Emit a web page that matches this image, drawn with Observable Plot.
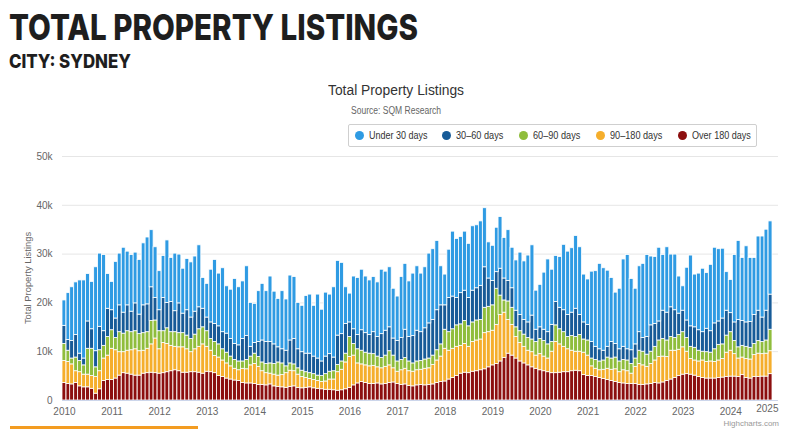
<!DOCTYPE html>
<html>
<head>
<meta charset="utf-8">
<script src="https://cdn.jsdelivr.net/npm/d3@7"></script>
<script src="https://cdn.jsdelivr.net/npm/@observablehq/plot@0.6"></script>
<style>
  html, body { margin: 0; padding: 0; background: #fff; }
  body { width: 800px; height: 429px; overflow: hidden; position: relative; font-family: "Liberation Sans", Arial, sans-serif; }
  .abs { position: absolute; white-space: nowrap; }
  .fit { transform-origin: 0 0; }
  #t1 { left: 9px; top: 9px; font: 800 36px/36px Inter, sans-serif; color: #1e1e1e; }
  #t2 { left: 9px; top: 52px; font: 800 19px/19px Inter, sans-serif; color: #1e1e1e; }
  #ct { top: 82px; font-size: 14px; line-height: 16px; color: #333; }
  #cs { top: 105px; font-size: 10px; line-height: 12px; color: #666; }
  #legend { left: 348px; top: 124px; width: 409px; height: 23px; border: 1px solid #cfcfcf; border-radius: 2px; box-sizing: border-box; }
  .dot { position: absolute; top: 6px; width: 9px; height: 9px; border-radius: 50%; }
  .lt { position: absolute; top: 4px; font-size: 11px; line-height: 13px; color: #333; transform-origin: 0 0; }
  #ytitle { left: 27px; top: 278px; transform: translate(-50%, -50%) rotate(-90deg); font-size: 9.4px; color: #666; }
  #credit { right: 21px; top: 419px; font-size: 8px; line-height: 9px; color: #999; }
  #chart { left: 0; top: 150px; }
  #bar { left: 10px; top: 426px; width: 188px; height: 3px; background: #f39c21; }
</style>
</head>
<body>
<div class="abs fit" id="t1">TOTAL PROPERTY LISTINGS</div>
<div class="abs fit" id="t2">CITY: SYDNEY</div>
<div class="abs fit" id="ct">Total Property Listings</div>
<div class="abs fit" id="cs">Source: SQM Research</div>
<div class="abs" id="legend"></div>
<div class="abs" id="ytitle">Total Property Listings</div>
<div class="abs" id="chart"></div>
<div class="abs" id="credit">Highcharts.com</div>
<div class="abs" id="bar"></div>
<script>
// ---- Data (thousands of listings), monthly Jan 2010 .. Nov 2024 ----
const startYear = 2010;
const seriesNames = ["Under 30 days", "30–60 days", "60–90 days", "90–180 days", "Over 180 days"];
const seriesColors = ["#2f9be3", "#175b98", "#8fbd3c", "#f5ae2c", "#8c0f0f"];
const yTicks = [0, 10, 20, 30, 40, 50];
const yearTicks = [2010, 2011, 2012, 2013, 2014, 2015, 2016, 2017, 2018, 2019, 2020, 2021, 2022, 2023, 2024, 2025];

const over180 = [
3.6,3.4,3.3,3.6,2.9,2.7,2.7,2.4,1.4,2.3,
4.0,4.2,4.2,4.5,5.1,5.6,5.5,5.3,5.1,5.1,
5.5,5.6,5.7,5.6,5.5,5.6,5.8,6.0,6.2,6.0,
5.7,5.7,5.8,5.8,5.7,5.5,5.9,5.8,5.6,5.0,
4.8,4.5,4.3,4.1,4.0,3.6,3.5,3.5,3.4,3.2,
3.2,3.1,3.3,2.9,2.8,2.7,2.6,2.8,2.9,2.6,
2.5,2.6,2.7,2.5,2.4,2.3,2.2,2.2,2.1,2.0,
2.1,2.3,2.6,3.1,3.5,3.8,3.6,3.4,3.4,3.5,
3.3,3.4,3.6,3.7,3.4,3.2,3.3,3.0,2.9,3.1,
3.2,3.1,3.2,3.3,3.6,3.8,3.9,4.3,4.6,5.0,
5.5,5.7,5.6,5.9,6.0,6.2,6.4,6.8,7.2,7.5,
8.0,8.7,9.6,9.2,8.6,8.0,7.6,7.2,6.8,6.5,
6.2,6.0,5.8,5.6,5.6,5.7,5.8,5.8,6.0,6.1,
6.0,5.2,5.0,5.0,4.8,4.6,4.4,4.2,4.0,3.8,
3.6,3.5,3.4,3.4,3.4,3.2,3.2,3.3,3.4,3.6,
3.5,3.7,4.0,4.3,4.6,5.0,5.3,5.4,5.3,5.1,
4.8,4.6,4.5,4.5,4.5,4.6,4.7,4.8,4.9,4.9,
4.8,5.2,4.6,4.5,4.8,4.8,4.9,4.9,5.4];

const d90to180 = [
4.5,4.5,4.1,2.4,2.9,2.6,2.6,2.6,3.4,3.7,
4.6,5.0,6.4,5.8,4.8,4.3,4.7,5.0,5.4,5.0,
4.7,5.0,5.8,7.1,5.0,6.2,5.8,5.2,4.8,4.9,
5.2,4.8,4.1,4.7,5.3,6.0,5.1,4.4,3.5,3.8,
3.4,3.1,2.7,2.4,2.2,2.9,2.9,3.7,4.1,3.7,
2.8,2.5,2.2,2.4,2.3,2.5,3.0,3.3,3.1,2.7,
2.3,2.0,1.7,1.7,1.6,1.5,1.7,2.1,2.2,3.8,
4.2,5.5,6.3,6.1,4.1,3.6,3.6,3.6,3.7,3.3,
3.3,3.5,3.6,2.9,2.5,3.0,3.2,3.0,3.0,3.1,
3.1,3.4,3.4,4.0,4.6,5.2,6.7,5.9,6.0,6.0,
5.7,5.9,5.4,6.1,6.3,6.3,7.4,7.2,7.1,8.0,
9.5,9.3,6.9,6.3,4.4,3.8,3.4,3.0,3.1,2.7,
3.3,3.0,2.8,4.4,6.4,5.8,5.2,4.7,4.2,3.9,
4.0,4.6,4.2,2.0,1.7,1.6,1.9,2.3,2.3,2.6,
2.2,2.7,2.6,2.1,3.5,4.3,4.0,3.6,4.1,4.6,
5.4,5.3,4.9,5.9,5.6,5.4,5.6,4.6,3.2,3.1,
3.2,3.6,3.4,3.5,3.4,3.6,3.8,5.0,5.3,4.6,
3.8,3.6,3.9,3.9,4.5,4.8,4.6,4.7,4.7];

const d60to90 = [
3.5,2.3,1.2,2.8,2.3,1.9,5.3,5.6,2.0,4.3,
2.6,3.8,3.8,2.5,4.1,3.8,4.0,3.7,3.7,3.5,
3.6,3.4,4.8,3.7,3.7,2.4,3.2,2.8,3.0,2.9,
2.9,2.8,2.7,3.0,3.6,3.5,3.2,2.4,2.9,2.7,
2.3,2.2,2.0,1.8,1.8,1.5,1.9,1.8,2.1,2.0,
1.8,1.9,2.1,2.2,2.7,2.4,1.4,1.5,1.4,1.3,
1.3,1.2,1.2,1.2,1.1,1.2,1.5,1.6,1.7,1.5,
1.7,1.8,4.1,2.4,2.9,2.8,2.6,2.6,2.4,2.2,
2.1,2.3,2.9,2.6,2.1,2.1,2.2,2.0,1.7,1.8,
1.8,1.9,2.0,1.9,2.1,2.5,3.9,3.8,4.0,4.4,
4.4,4.7,4.2,4.0,4.1,4.0,5.2,5.2,5.2,7.4,
4.0,2.5,3.8,3.5,2.0,2.4,2.5,2.6,2.6,2.8,
3.1,3.2,2.9,2.0,3.4,3.1,3.0,2.5,3.0,3.0,
3.4,2.7,3.1,1.6,1.8,1.8,1.9,2.3,2.3,2.4,
2.2,2.1,2.2,2.0,1.7,2.7,2.8,2.5,2.5,2.8,
3.4,3.6,3.4,2.8,2.6,3.0,3.1,2.8,2.5,2.6,
2.2,1.8,2.0,1.8,2.6,3.2,3.0,3.5,3.8,2.7,
2.3,2.4,2.5,2.4,2.3,2.6,2.5,2.7,4.4];

const d30to60 = [
3.7,2.2,3.6,4.6,1.5,1.4,5.6,4.0,3.3,4.8,
3.0,5.8,4.1,4.0,5.5,4.3,5.3,4.2,5.7,4.0,
5.7,5.7,6.9,4.6,4.3,6.8,5.2,6.2,4.3,6.1,
4.0,5.2,4.4,4.7,4.5,3.8,2.8,3.4,3.7,3.7,
3.5,3.9,3.6,3.3,3.3,4.6,4.9,2.0,2.2,3.1,
4.5,4.5,4.4,4.0,3.1,2.9,3.2,4.7,5.2,3.9,
3.8,3.8,4.0,3.6,3.5,3.0,3.6,3.6,2.8,6.0,
5.6,6.1,3.0,3.0,2.9,4.2,4.0,3.8,4.5,4.0,
4.9,5.1,4.9,3.5,4.2,4.5,5.8,5.0,5.6,6.3,
5.9,6.4,7.2,7.3,8.2,8.0,5.0,7.0,6.7,5.6,
6.4,6.2,5.8,6.5,6.6,7.0,8.3,5.8,5.0,3.4,
5.5,4.5,4.2,4.0,3.4,3.3,3.0,3.2,4.9,2.5,
2.4,2.3,2.5,3.5,4.8,4.4,4.5,4.5,4.8,5.8,
4.1,3.5,3.2,3.4,2.7,2.5,2.0,2.2,3.4,2.8,
2.5,2.7,2.3,2.8,2.9,3.8,2.8,3.6,5.4,4.7,
3.9,5.8,5.7,6.1,5.7,4.4,4.4,3.6,4.2,4.2,
4.2,4.0,4.8,4.4,5.3,4.8,5.3,5.1,3.9,3.8,
5.6,5.1,5.0,5.3,5.9,6.2,5.0,6.1,7.2];

const under30 = [
5.2,9.6,11.0,10.8,15.0,16.0,9.7,9.7,17.2,15.0,
15.6,7.1,5.8,11.6,10.6,13.3,11.0,11.6,10.4,11.2,
12.7,13.7,11.7,10.4,8.0,8.6,12.8,9.0,11.8,10.0,
9.2,10.5,11.3,11.3,12.7,6.3,6.9,10.8,13.1,10.8,
13.1,9.7,10.1,13.3,11.9,11.8,14.3,9.0,8.0,10.4,
11.6,10.4,13.4,10.8,9.9,11.9,10.5,13.3,12.7,9.5,
9.5,11.8,12.1,10.4,13.1,10.6,13.1,12.2,14.4,15.3,
14.6,7.5,5.9,10.8,11.7,12.4,11.6,11.2,11.3,11.2,
13.2,12.1,12.3,10.2,9.1,12.5,13.5,11.4,12.8,13.2,
12.0,12.5,14.3,14.5,14.2,8.0,6.3,9.9,13.3,12.1,
11.5,12.1,11.1,13.2,12.9,13.2,12.1,7.4,7.2,9.1,
10.6,8.3,10.4,8.3,10.3,12.8,12.0,13.7,14.4,8.0,
8.7,11.7,14.9,11.3,9.4,10.4,13.4,13.0,13.2,14.9,
13.9,9.8,9.3,14.4,15.5,17.5,16.9,15.6,13.1,10.5,
12.4,17.9,19.3,14.6,11.4,13.5,15.2,16.8,14.1,13.7,
15.1,11.4,13.4,10.8,11.4,7.6,5.0,10.8,14.5,10.8,
11.6,13.0,11.4,13.6,15.5,14.8,14.3,7.9,6.8,13.8,
16.2,12.9,15.6,13.1,11.7,15.2,16.6,16.6,15.0];

// ---- Build table ----
const seriesValues = [under30, d30to60, d60to90, d90to180, over180];
const N = over180.length;
seriesValues.forEach((a, k) => { if (a.length !== N) throw new Error("length mismatch " + seriesNames[k] + " " + a.length + " vs " + N); });
const months = d3.range(N).map(i => new Date(Date.UTC(startYear, i, 1)));
const rows = [];
for (let s = seriesNames.length - 1; s >= 0; s--) {
  for (let i = 0; i < N; i++) {
    rows.push({
      series: seriesNames[s],
      x1: d3.utcDay.offset(months[i], -15),
      x2: d3.utcDay.offset(months[i], 15),
      value: seriesValues[s][i]
    });
  }
}
const yearDates = yearTicks.map(y => new Date(Date.UTC(y, 0, 1)));
const lastYear = yearDates[yearDates.length - 1];

const chart = Plot.plot({
  width: 800,
  height: 279,
  marginTop: 6,
  marginBottom: 29,
  marginLeft: 62,
  marginRight: 22,
  style: { fontFamily: "'Liberation Sans', Arial, sans-serif", fontSize: "10px", color: "#666", background: "transparent", overflow: "visible" },
  x: {
    type: "utc",
    domain: [new Date(Date.UTC(startYear - 1, 11, 17)), lastYear],
    ticks: yearDates.slice(0, -1),
    tickFormat: d => String(d.getUTCFullYear()),
    tickSize: 0,
    tickPadding: 7,
    label: null
  },
  y: {
    domain: [0, 50],
    ticks: yTicks,
    tickFormat: d => d === 0 ? "0" : d + "k",
    tickSize: 0,
    tickPadding: 10,
    label: null
  },
  color: { domain: seriesNames, range: seriesColors },
  marks: [
    Plot.ruleY(yTicks, { stroke: "#e6e6e6", strokeWidth: 1 }),
    Plot.rectY(rows, { x1: "x1", x2: "x2", y: "value", fill: "series", stroke: "#fff", strokeWidth: 0.8 }),
    Plot.ruleY([0], { stroke: "#ccd6eb", strokeWidth: 1 }),
    Plot.text([lastYear], { x: d => d, frameAnchor: "bottom", textAnchor: "end", dy: 11, text: d => String(d.getUTCFullYear()), fill: "#666", fontSize: 10 })
  ]
});
document.getElementById("chart").appendChild(chart);

// ---- helpers to fit text widths to the reference ----
function fitEl(el, target) {
  const w = el.getBoundingClientRect().width;
  el.style.transform = `scaleX(${target / w})`;
}
function fitCentered(id, center, target) {
  const el = document.getElementById(id);
  fitEl(el, target);
  el.style.left = (center - target / 2) + "px";
}

// ---- Legend (HTML) ----
const legend = document.getElementById("legend");
const legendDot = [5.5, 93, 170, 247, 329];
const legendText = [19.5, 106.7, 183.7, 260.7, 342.8];
const legendW = [58.5, 47.3, 47.3, 52.3, 58.9];
seriesNames.forEach((name, k) => {
  const dot = document.createElement("div");
  dot.className = "dot";
  dot.style.left = legendDot[k] + "px";
  dot.style.background = seriesColors[k];
  legend.appendChild(dot);
  const t = document.createElement("div");
  t.className = "lt";
  t.style.left = legendText[k] + "px";
  t.textContent = name;
  legend.appendChild(t);
  fitEl(t, legendW[k]);
});

fitEl(document.getElementById("t1"), 409);
fitEl(document.getElementById("t2"), 122);
fitCentered("ct", 396, 136);
fitCentered("cs", 396, 90);
</script>
</body>
</html>
